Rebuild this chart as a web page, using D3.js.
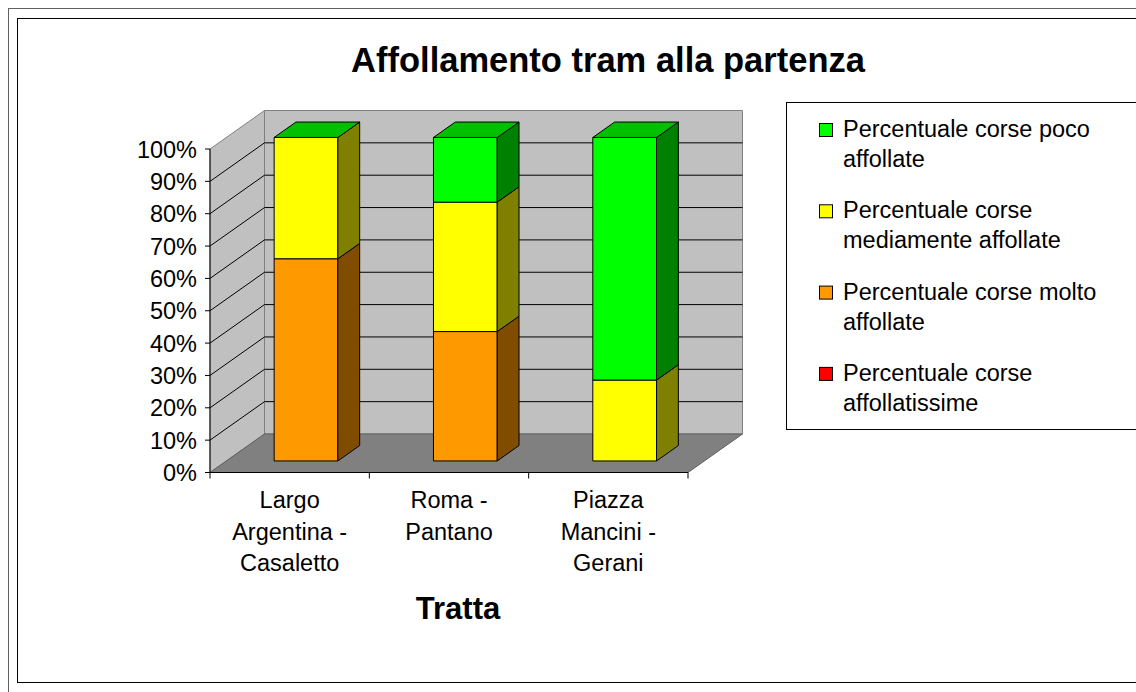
<!DOCTYPE html>
<html>
<head>
<meta charset="utf-8">
<script src="https://cdn.jsdelivr.net/npm/d3@7"></script>
<style>
  body { margin: 0; background: #fff; }
  svg { display: block; font-family: "Liberation Sans", Arial, sans-serif; }
</style>
</head>
<body>
<svg id="chart"></svg>
<script>
const w = 1136, h = 692;

const categories = [
  ["Largo", "Argentina -", "Casaletto"],
  ["Roma -", "Pantano"],
  ["Piazza", "Mancini -", "Gerani"]
];
// stack order bottom -> top
const seriesNames = [
  "Percentuale corse affollatissime",
  "Percentuale corse molto affollate",
  "Percentuale corse mediamente affollate",
  "Percentuale corse poco affollate"
];
const legendLines = [
  ["Percentuale corse poco", "affollate"],
  ["Percentuale corse", "mediamente affollate"],
  ["Percentuale corse molto", "affollate"],
  ["Percentuale corse", "affollatissime"]
];
const affollatissime = [0, 0, 0];
const molto = [0.625, 0.40, 0];
const mediamente = [0.375, 0.40, 0.25];
const poco = [0, 0.20, 0.75];
const seriesValues = [affollatissime, molto, mediamente, poco];

const frontColors = ["#FF0000", "#FF9900", "#FFFF00", "#00FF00"];
const sideColors = ["#800000", "#804C00", "#808000", "#008000"];
const topColors = ["#C00000", "#C07300", "#C0C000", "#00C000"];
const legendColors = ["#00FF00", "#FFFF00", "#FF9900", "#FF0000"];

const DX = 54.5, DY = -38.5;      // full depth offset of the 3d box
const z0 = 0.3, z1 = 0.7;         // depth occupied by the bars

const svg = d3.select("#chart").attr("width", w).attr("height", h);

// frames
svg.append("rect").attr("x", 8.5).attr("y", 8.5).attr("width", w).attr("height", h)
  .attr("fill", "none").attr("stroke", "#606060");
svg.append("rect").attr("x", 17.5).attr("y", 18.5).attr("width", w).attr("height", 664)
  .attr("fill", "#fff").attr("stroke", "#000");

const x = d3.scaleBand()
  .domain(d3.range(categories.length))
  .range([210, 688])
  .paddingInner(0.6)
  .paddingOuter(0.3);

const xEdge = d3.scaleLinear().domain([0, categories.length]).range([210, 688]);

const y = d3.scaleLinear().domain([0, 1]).range([472.5, 149]);

const pt = (px, v, z) => [px + z * DX, y(v) + z * DY];
const poly = pts => "M" + pts.map(p => p.join(",")).join("L") + "Z";

// walls
const x0 = 210, x1 = 688;
svg.append("path")
  .attr("d", poly([pt(x0, 0, 0), pt(x0, 0, 1), pt(x0, 1, 1), pt(x0, 1, 0)]))
  .attr("fill", "#C0C0C0").attr("stroke", "#808080");
svg.append("path")
  .attr("d", poly([pt(x0, 0, 1), pt(x1, 0, 1), pt(x1, 1, 1), pt(x0, 1, 1)]))
  .attr("fill", "#C0C0C0").attr("stroke", "#808080");
svg.append("path")
  .attr("d", poly([pt(x0, 0, 0), pt(x1, 0, 0), pt(x1, 0, 1), pt(x0, 0, 1)]))
  .attr("fill", "#808080").attr("stroke", "#606060");

const ticks = d3.range(0, 11).map(i => i / 10);
const grid = svg.append("g").attr("stroke", "#000").attr("fill", "none");
ticks.filter(t => t > 0 && t < 1).forEach(t => {
  grid.append("path").attr("d", "M" + pt(x0, t, 0) + "L" + pt(x0, t, 1) + "L" + pt(x1, t, 1));
});

// bars
const bars = svg.append("g").attr("stroke", "#000").attr("stroke-width", 1).attr("stroke-linejoin", "round");
categories.forEach((c, i) => {
  const bx0 = x(i), bx1 = x(i) + x.bandwidth();
  let base = 0;
  seriesValues.forEach((vals, s) => {
    const v = vals[i];
    if (v <= 0) return;
    const t = base + v;
    bars.append("path")
      .attr("d", poly([pt(bx0, base, z0), pt(bx1, base, z0), pt(bx1, t, z0), pt(bx0, t, z0)]))
      .attr("fill", frontColors[s]);
    bars.append("path")
      .attr("d", poly([pt(bx1, base, z0), pt(bx1, base, z1), pt(bx1, t, z1), pt(bx1, t, z0)]))
      .attr("fill", sideColors[s]);
    base = t;
  });
  const s = seriesValues.length - 1;
  bars.append("path")
    .attr("d", poly([pt(bx0, base, z0), pt(bx1, base, z0), pt(bx1, base, z1), pt(bx0, base, z1)]))
    .attr("fill", topColors[s]);
});

// y axis
const yAxis = svg.append("g").attr("font-size", 23.5);
yAxis.append("line").attr("x1", x0).attr("x2", x0).attr("y1", y(0)).attr("y2", y(1)).attr("stroke", "#000");
ticks.forEach(t => {
  yAxis.append("line").attr("x1", x0 - 5).attr("x2", x0).attr("y1", y(t)).attr("y2", y(t)).attr("stroke", "#000");
  yAxis.append("text").attr("x", 197).attr("y", y(t) + 8.5)
    .attr("text-anchor", "end").text(d3.format(".0%")(t));
});

// x axis
const xAxis = svg.append("g").attr("font-size", 23.5);
xAxis.append("line").attr("x1", x0).attr("x2", x1).attr("y1", y(0)).attr("y2", y(0)).attr("stroke", "#000");
d3.range(categories.length + 1).forEach(i => {
  xAxis.append("line").attr("x1", xEdge(i)).attr("x2", xEdge(i))
    .attr("y1", y(0)).attr("y2", y(0) + 6).attr("stroke", "#000");
});
categories.forEach((lines, i) => {
  const tx = xAxis.append("text").attr("text-anchor", "middle");
  lines.forEach((l, j) => {
    tx.append("tspan").attr("x", x(i) + x.bandwidth() / 2).attr("y", 508 + j * 31.5).text(l);
  });
});

svg.append("text").attr("x", 458).attr("y", 619).attr("text-anchor", "middle")
  .attr("font-size", 31).attr("font-weight", "bold").text("Tratta");

svg.append("text").attr("x", 608).attr("y", 72).attr("text-anchor", "middle")
  .attr("font-size", 34.5).attr("font-weight", "bold").text("Affollamento tram alla partenza");

// legend
const legend = svg.append("g").attr("font-size", 23.5);
legend.append("rect").attr("x", 786.5).attr("y", 102.5).attr("width", 400).attr("height", 327)
  .attr("fill", "#fff").attr("stroke", "#000");
legendLines.forEach((lines, i) => {
  const by = 137 + i * 81.3;
  legend.append("rect").attr("x", 819.5).attr("y", by - 13.5).attr("width", 13).attr("height", 13)
    .attr("fill", legendColors[i]).attr("stroke", "#000");
  const tx = legend.append("text");
  lines.forEach((l, j) => {
    tx.append("tspan").attr("x", 843).attr("y", by + j * 30).text(l);
  });
});
</script>
</body>
</html>
